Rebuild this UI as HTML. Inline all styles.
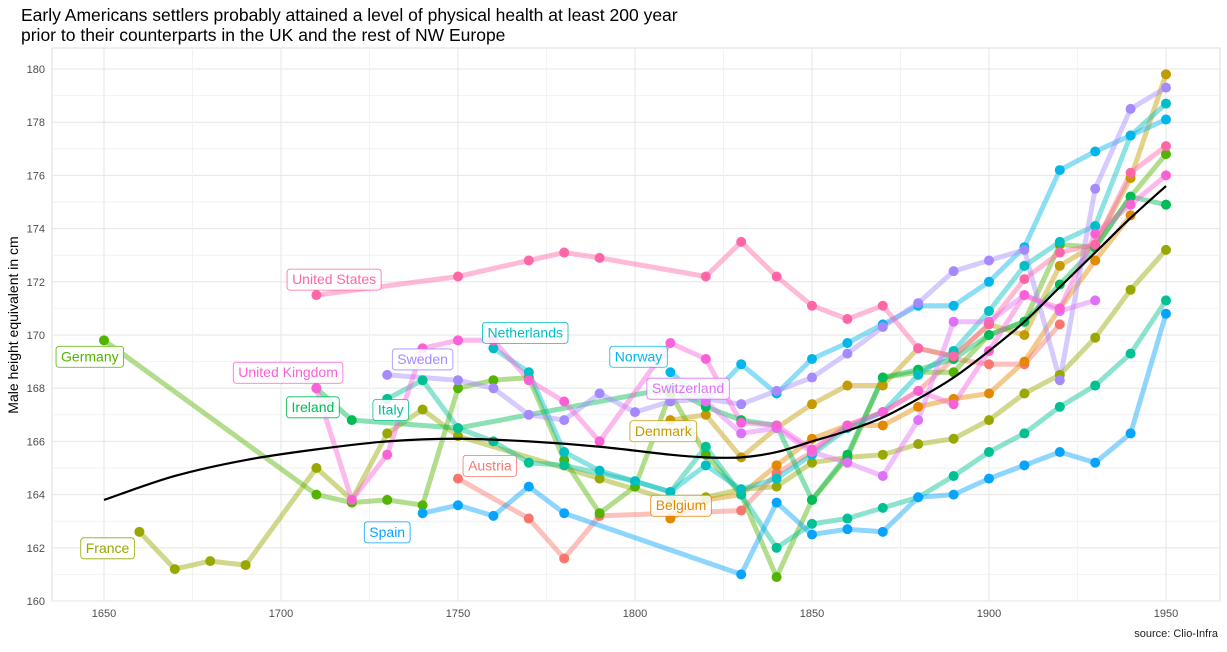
<!DOCTYPE html>
<html><head><meta charset="utf-8"><style>
body{margin:0;background:#fff;font-family:"Liberation Sans",Arial,sans-serif}
svg text{font-family:"Liberation Sans",Arial,sans-serif}
</style></head><body>
<svg id="chart" width="1227" height="647" xmlns="http://www.w3.org/2000/svg">
<text x="21" y="21" font-size="17.5" fill="#000">Early Americans settlers probably attained a level of physical health at least 200 year</text>
<text x="21" y="41" font-size="17.5" fill="#000">prior to their counterparts in the UK and the rest of NW Europe</text>
<text transform="translate(18,325) rotate(-90)" text-anchor="middle" font-size="14">Male height equivalent in cm</text>
<text x="1218" y="637" text-anchor="end" font-size="11" fill="#222">source: Clio-Infra</text>
<g id="grid"></g><g id="lines"></g><g id="points"></g><g id="smooth"></g><g id="labels"></g>
</svg>
<script>
const NS="http://www.w3.org/2000/svg";
const xTicks=[1650,1700,1750,1800,1850,1900,1950];
const yTicks=[160,162,164,166,168,170,172,174,176,178,180];
const countries=["Austria","Belgium","Denmark","France","Germany","Ireland","Italy","Netherlands","Norway","Spain","Sweden","Switzerland","United Kingdom","United States"];
const colors=["#F8766D","#E38900","#C49A00","#99A800","#53B400","#00BC56","#00C094","#00BFC4","#00B6EB","#06A4FF","#A58AFF","#DF70F8","#FB61D7","#FF66A8"];
const yrsAustria=[1750,1770,1780,1790,1830,1840,1850,1860,1870,1880,1890,1900,1910,1920];
const valAustria=[164.6,163.1,161.6,163.2,163.4,164.8,165.6,166.6,167.1,167.9,169.1,168.9,168.9,170.4];
const yrsBelgium=[1810,1820,1830,1840,1850,1860,1870,1880,1890,1900,1910,1920,1930,1940];
const valBelgium=[163.1,163.8,164.0,165.1,166.1,166.6,166.6,167.3,167.6,167.8,169.0,171.0,172.8,174.5];
const yrsDenmark=[1810,1820,1830,1840,1850,1860,1870,1880,1890,1900,1910,1920,1930,1940,1950];
const valDenmark=[166.8,167.0,165.4,166.5,167.4,168.1,168.1,169.5,169.2,170.4,170.0,172.6,173.4,175.9,179.8];
const yrsFrance=[1660,1670,1680,1690,1710,1720,1730,1740,1750,1790,1810,1820,1830,1840,1850,1860,1870,1880,1890,1900,1910,1920,1930,1940,1950];
const valFrance=[162.6,161.2,161.5,161.35,165.0,163.8,166.3,167.2,166.2,164.6,163.8,163.9,164.2,164.3,165.2,165.4,165.5,165.9,166.1,166.8,167.8,168.5,169.9,171.7,173.2];
const yrsGermany=[1650,1710,1720,1730,1740,1750,1760,1770,1780,1790,1800,1810,1820,1830,1840,1850,1860,1870,1880,1890,1900,1910,1920,1930,1940,1950];
const valGermany=[169.8,164.0,163.7,163.8,163.6,168.0,168.3,168.4,165.3,163.3,164.3,167.8,165.5,164.0,160.9,163.8,165.4,168.4,168.6,168.6,170.0,170.5,173.4,173.3,175.2,176.8];
const yrsIreland=[1710,1720,1750,1810,1820,1830,1840,1850,1860,1870,1880,1890,1900,1910,1920,1930,1940,1950];
const valIreland=[168.0,166.8,166.5,168.0,167.3,166.8,166.6,163.8,165.5,168.4,168.7,169.1,170.0,170.5,171.9,173.3,175.2,174.9];
const yrsItaly=[1730,1740,1750,1760,1770,1780,1800,1810,1820,1830,1840,1850,1860,1870,1880,1890,1900,1910,1920,1930,1940,1950];
const valItaly=[167.6,168.3,166.5,166.0,165.2,165.1,164.5,164.1,165.8,164.0,162.0,162.9,163.1,163.5,163.9,164.7,165.6,166.3,167.3,168.1,169.3,171.3];
const yrsNetherlands=[1760,1770,1780,1790,1800,1810,1820,1830,1840,1850,1860,1870,1880,1890,1900,1910,1920,1930,1940,1950];
const valNetherlands=[169.5,168.6,165.6,164.9,164.5,164.1,165.1,164.2,164.6,165.5,166.5,167.1,168.5,169.4,170.9,172.6,173.5,174.1,177.5,178.7];
const yrsNorway=[1810,1820,1830,1840,1850,1860,1870,1880,1890,1900,1910,1920,1930,1940,1950];
const valNorway=[168.6,167.5,168.9,167.8,169.1,169.7,170.4,171.1,171.1,172.0,173.3,176.2,176.9,177.5,178.1];
const yrsSpain=[1740,1750,1760,1770,1780,1830,1840,1850,1860,1870,1880,1890,1900,1910,1920,1930,1940,1950];
const valSpain=[163.3,163.6,163.2,164.3,163.3,161.0,163.7,162.5,162.7,162.6,163.9,164.0,164.6,165.1,165.6,165.2,166.3,170.8];
const yrsSweden=[1730,1750,1760,1770,1780,1790,1800,1810,1820,1830,1840,1850,1860,1870,1880,1890,1900,1910,1920,1930,1940,1950];
const valSweden=[168.5,168.3,168.0,167.0,166.8,167.8,167.1,167.5,167.6,167.4,167.9,168.4,169.3,170.3,171.2,172.4,172.8,173.2,168.3,175.5,178.5,179.3];
const yrsSwitzerland=[1820,1830,1840,1850,1860,1870,1880,1890,1900,1910,1920,1930];
const valSwitzerland=[167.5,166.3,166.5,165.6,165.2,164.7,166.8,170.5,170.5,171.5,170.9,171.3];
const yrsUK=[1710,1720,1730,1740,1750,1760,1770,1780,1790,1810,1820,1830,1840,1850,1860,1870,1880,1890,1900,1910,1920,1930,1940,1950];
const valUK=[168.0,163.8,165.5,169.5,169.8,169.8,168.3,167.5,166.0,169.7,169.1,166.7,166.6,165.7,166.6,167.1,167.9,167.4,169.4,171.5,171.0,173.8,174.9,176.0];
const yrsUS=[1710,1750,1770,1780,1790,1820,1830,1840,1850,1860,1870,1880,1890,1900,1910,1920,1930,1940,1950];
const valUS=[171.5,172.2,172.8,173.1,172.9,172.2,173.5,172.2,171.1,170.6,171.1,169.5,169.2,170.4,172.1,173.1,173.4,176.1,177.1];
const seriesYears=[yrsAustria,yrsBelgium,yrsDenmark,yrsFrance,yrsGermany,yrsIreland,yrsItaly,yrsNetherlands,yrsNorway,yrsSpain,yrsSweden,yrsSwitzerland,yrsUK,yrsUS];
const seriesVals=[valAustria,valBelgium,valDenmark,valFrance,valGermany,valIreland,valItaly,valNetherlands,valNorway,valSpain,valSweden,valSwitzerland,valUK,valUS];
const smoothYears=[1650,1670,1690,1710,1730,1750,1770,1790,1810,1820,1830,1840,1850,1860,1870,1880,1890,1900,1910,1920,1930,1940,1950];
const smoothVals=[163.8,164.7,165.3,165.7,166.0,166.1,166.0,165.8,165.5,165.4,165.4,165.6,166.0,166.4,166.9,167.6,168.4,169.4,170.5,171.8,173.1,174.4,175.6];
const labelText=["Austria","Belgium","Denmark","France","Germany","Ireland","Italy","Netherlands","Norway","Spain","Sweden","Switzerland","United Kingdom","United States"];
const labelYear=[1759,1813,1808,1651,1646,1709,1731,1769,1801,1730,1740,1815,1702,1715];
const labelVal=[165.1,163.6,166.4,162.0,169.2,167.3,167.2,170.1,169.2,162.6,169.1,168.0,168.6,172.1];

const X=y=>104+(y-1650)*(1062/300);
const Y=v=>601-(v-160)*(532/20);
const mk=(t,a,p)=>{const e=document.createElementNS(NS,t);for(const k in a)e.setAttribute(k,a[k]);p.appendChild(e);return e;};
const grid=document.getElementById('grid');
mk('rect',{x:52,y:48,width:1168,height:553,fill:'none',stroke:'#ddd','stroke-width':1},grid);
for(let i=0;i<yTicks.length;i++){
  const v=yTicks[i];
  const l=mk('line',{x1:52,x2:1220,y1:Y(v),y2:Y(v),stroke:'#e6e6e6','stroke-width':1},grid);
  
  
  if(i<yTicks.length-1){mk('line',{x1:52,x2:1220,y1:Y(v+1),y2:Y(v+1),stroke:'#f2f2f2','stroke-width':1},grid);}
  const t=mk('text',{x:45,y:Y(v)+4,'text-anchor':'end','font-size':11,fill:'#4d4d4d'},grid);
  t.textContent=v;
  
  
}
for(let i=0;i<xTicks.length;i++){
  const v=xTicks[i];
  const l=mk('line',{y1:48,y2:601,x1:X(v),x2:X(v),stroke:'#e6e6e6','stroke-width':1},grid);
  
  
  if(i<xTicks.length-1)mk('line',{y1:48,y2:601,x1:X(v+25),x2:X(v+25),stroke:'#f2f2f2','stroke-width':1},grid);
  const t=mk('text',{x:X(v),y:617,'text-anchor':'middle','font-size':11,fill:'#4d4d4d'},grid);
  t.textContent=v;
  
  
}
const lines=document.getElementById('lines'),pts=document.getElementById('points');
for(let s=0;s<countries.length;s++){
  const ys=seriesYears[s],vs=seriesVals[s];
  const d=ys.map((y,i)=>X(y).toFixed(1)+','+Y(vs[i]).toFixed(1)).join(' ');
  const pl=mk('polyline',{points:d,fill:'none',stroke:colors[s],'stroke-width':5,'stroke-opacity':0.45,'stroke-linejoin':'round'},lines);
  
  
  for(let i=0;i<ys.length;i++){
    const c=mk('circle',{cx:X(ys[i]),cy:Y(vs[i]),r:5,fill:colors[s]},pts);
    
    
  }
}
// Catmull-Rom smoothed path through smooth points
const sp=smoothYears.map((y,i)=>[X(y),Y(smoothVals[i])]);
let dpath='M'+sp[0][0]+','+sp[0][1];
for(let i=0;i<sp.length-1;i++){
  const p0=sp[i-1]||sp[i],p1=sp[i],p2=sp[i+1],p3=sp[i+2]||p2;
  const c1=[p1[0]+(p2[0]-p0[0])/6,p1[1]+(p2[1]-p0[1])/6];
  const c2=[p2[0]-(p3[0]-p1[0])/6,p2[1]-(p3[1]-p1[1])/6];
  dpath+=' C'+c1.join(',')+' '+c2.join(',')+' '+p2.join(',');
}
const sm=mk('path',{d:dpath,fill:'none',stroke:'#000','stroke-width':2.2},document.getElementById('smooth'));


const lab=document.getElementById('labels');
for(let i=0;i<labelText.length;i++){
  const g=mk('g',{},lab);
  
  
  const cx=X(labelYear[i]),cy=Y(labelVal[i]);
  const t=mk('text',{x:cx,y:cy+5,'text-anchor':'middle','font-size':14,fill:colors[i]},g);
  t.textContent=labelText[i];
  const w=t.getComputedTextLength()+10;
  const r=mk('rect',{x:cx-w/2,y:cy-10,width:w,height:21,rx:3,fill:'#fff','fill-opacity':0.85,stroke:colors[i],'stroke-width':0.8},g);
  g.insertBefore(r,t);
}
</script>
</body></html>
